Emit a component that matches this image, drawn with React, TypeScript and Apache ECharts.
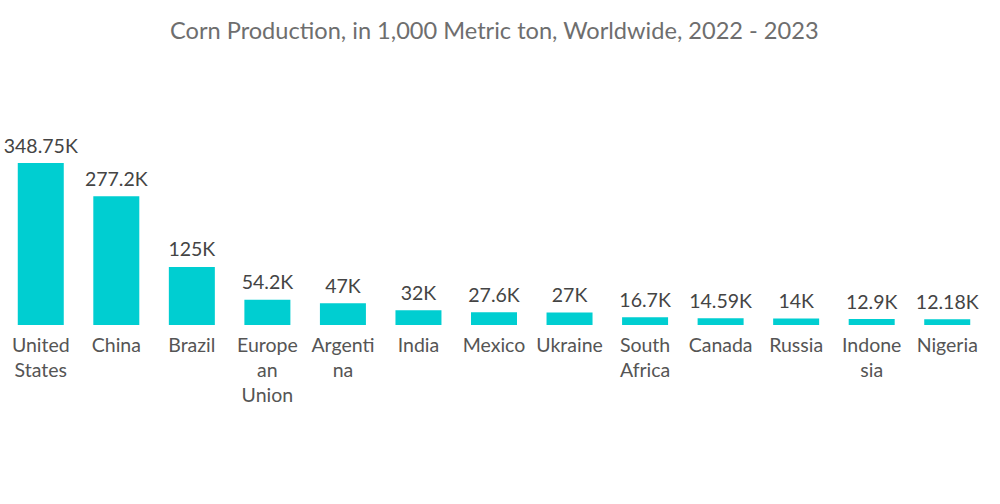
import React, { useEffect, useRef } from "react";
import * as echarts from "echarts";

const countries = [
  "United States", "China", "Brazil", "European Union", "Argentina", "India",
  "Mexico", "Ukraine", "South Africa", "Canada", "Russia", "Indonesia", "Nigeria",
];
const wrappedLabels = [
  "United\nStates", "China", "Brazil", "Europe\nan\nUnion", "Argenti\nna", "India",
  "Mexico", "Ukraine", "South\nAfrica", "Canada", "Russia", "Indone\nsia", "Nigeria",
];
const production = [348.75, 277.2, 125, 54.2, 47, 32, 27.6, 27, 16.7, 14.59, 14, 12.9, 12.18];
const titleText = "Corn Production, in 1,000 Metric ton, Worldwide, 2022 - 2023";

export default function App() {
  const ref = useRef<HTMLDivElement>(null);
  useEffect(() => {
    if (!ref.current) return;
    const chart = echarts.init(ref.current, undefined, { renderer: "svg" });
    const font = "Lato";
    chart.setOption({
      animation: false,
      backgroundColor: "#ffffff",
      title: {
        text: titleText,
        left: 165,
        top: 13,
        textStyle: { fontFamily: font, fontSize: 23.6, fontWeight: "normal", color: "#6e6e6e" },
      },
      grid: { left: 3, right: 15, top: 163, bottom: 179, containLabel: false },
      xAxis: {
        type: "category",
        data: countries,
        axisLine: { show: false },
        axisTick: { show: false },
        axisLabel: {
          interval: 0,
          margin: 7,
          fontFamily: font,
          fontSize: 19.5,
          lineHeight: 25,
          color: "#555555",
          formatter: (v: string) => wrappedLabels[countries.indexOf(v)] ?? v,
        },
      },
      yAxis: {
        type: "value",
        min: 0,
        max: 348.75,
        show: false,
        splitLine: { show: false },
      },
      series: [
        {
          type: "bar",
          data: production,
          barWidth: 46,
          itemStyle: { color: "#00CED1" },
          label: {
            show: true,
            position: "top",
            distance: 8,
            fontFamily: font,
            fontSize: 19.5,
            color: "#444444",
            formatter: (p: any) => `${p.value}K`,
          },
        },
      ],
    });
    return () => chart.dispose();
  }, []);
  return (
    <div
      ref={ref}
      style={{ position: "fixed", left: 0, top: 0, width: 1000, height: 504 }}
    />
  );
}
